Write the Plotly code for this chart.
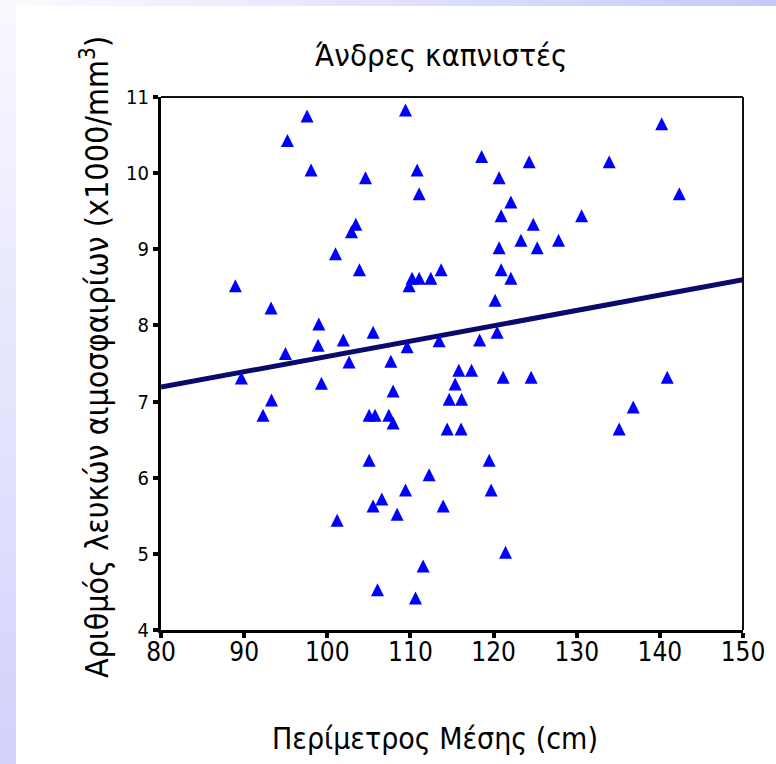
import plotly.graph_objects as go

# ---- data ----
waist_cm = [88.95, 89.67, 92.27, 93.24, 93.29, 94.97, 95.21, 97.57, 98.05, 98.98,
            98.89, 99.30, 101.18, 100.99, 101.93, 102.62, 102.91, 103.43, 103.87, 104.60,
            105.03, 105.03, 105.51, 105.51, 106.04, 105.75, 106.56, 107.40, 107.64, 107.92,
            107.92, 108.40, 109.41, 109.41, 109.60, 109.84, 110.20, 110.61, 110.81, 111.05,
            111.05, 111.53, 112.25, 112.45, 113.69, 113.45, 113.94, 114.42, 114.66, 115.38,
            115.82, 116.15, 116.10, 117.35, 118.32, 118.56, 119.47, 119.71, 120.19, 120.43,
            120.67, 120.67, 120.91, 120.91, 121.15, 121.44, 122.08, 122.08, 123.29, 124.28,
            124.52, 124.77, 125.25, 127.82, 130.59, 133.91, 135.11, 136.80, 140.22, 140.89,
            142.34]
wbc = [8.52, 7.31, 6.82, 8.23, 7.02, 7.63, 10.43, 10.75, 10.04, 8.02,
       7.74, 7.24, 5.44, 8.94, 7.81, 7.52, 9.23, 9.33, 8.73, 9.94,
       6.23, 6.82, 7.91, 5.63, 4.53, 6.82, 5.72, 6.82, 7.53, 7.14,
       6.72, 5.52, 5.84, 10.83, 7.72, 8.52, 8.62, 4.42, 10.04, 9.73,
       8.62, 4.84, 6.04, 8.62, 8.73, 7.80, 5.63, 6.64, 7.03, 7.23,
       7.41, 7.03, 6.64, 7.41, 7.81, 10.22, 6.23, 5.84, 8.33, 7.91,
       9.94, 9.02, 9.44, 8.73, 7.32, 5.02, 9.62, 8.62, 9.12, 10.15,
       7.32, 9.33, 9.02, 9.12, 9.44, 10.15, 6.64, 6.93, 10.65, 7.32,
       9.73]
fit_x = [80, 150]
fit_y = [7.19, 8.60]
x_ticks = [80, 90, 100, 110, 120, 130, 140, 150]
y_ticks = [4, 5, 6, 7, 8, 9, 10, 11]

title_text = "Άνδρες καπνιστές"
x_title = "Περίμετρος Μέσης (cm)"
y_title = "Αριθμός λευκών αιμοσφαιρίων (x1000/mm<sup>3</sup>)"

# ---- layout geometry (px) ----
W, H = 776, 764
L, R, T, B = 161, 33, 97, 134
PW, PH = W - L - R, H - T - B

def px_x(p):
    return (p - L) / PW

def px_y(p):
    return (H - B - p) / PH

narrow = "Liberation Sans Narrow, DejaVu Sans Condensed, Liberation Sans, Arial"

fig = go.Figure()
fig.add_trace(go.Scatter(
    x=fit_x, y=fit_y, mode="lines",
    line=dict(color="#0a0a6e", width=5),
    hoverinfo="skip", showlegend=False))
fig.add_trace(go.Scatter(
    x=waist_cm, y=wbc, mode="markers",
    marker=dict(symbol="arrow-down", angle=180, standoff=6.5, size=13,
                color="#0000ff", line=dict(width=0)),
    showlegend=False))

shapes = []
# decorative background strips (lavender gradients)
n = 40
def mix(c1, c2, t):
    return "rgb(%d,%d,%d)" % tuple(round(a + (b - a) * t) for a, b in zip(c1, c2))
for i in range(n):
    y0 = i * H / n
    y1 = (i + 1) * H / n + 0.5
    shapes.append(dict(type="rect", xref="paper", yref="paper", layer="below",
                       x0=px_x(0), x1=px_x(16), y0=px_y(y1), y1=px_y(y0),
                       fillcolor=mix((248, 248, 255), (210, 210, 252), i / (n - 1)),
                       line=dict(width=0)))
for i in range(n):
    x0 = 16 + i * (W - 16) / n
    x1 = 16 + (i + 1) * (W - 16) / n + 0.5
    shapes.append(dict(type="rect", xref="paper", yref="paper", layer="below",
                       x0=px_x(x0), x1=px_x(x1), y0=px_y(6), y1=px_y(0),
                       fillcolor=mix((250, 250, 255), (200, 200, 252), i / (n - 1)),
                       line=dict(width=0)))
# thin top and right frame lines
shapes.append(dict(type="line", xref="paper", yref="paper", x0=0, x1=1, y0=1, y1=1,
                   line=dict(color="#111111", width=2)))
shapes.append(dict(type="line", xref="paper", yref="paper", x0=1, x1=1, y0=0, y1=1,
                   line=dict(color="#111111", width=2)))

annotations = [
    dict(text=title_text, xref="paper", yref="paper", x=px_x(441), y=px_y(55),
         showarrow=False, xanchor="center", yanchor="middle",
         font=dict(family=narrow, size=31, color="black")),
    dict(text=x_title, xref="paper", yref="paper", x=px_x(435), y=px_y(738),
         showarrow=False, xanchor="center", yanchor="middle",
         font=dict(family=narrow, size=30, color="black")),
    dict(text=y_title, xref="paper", yref="paper", x=px_x(95), y=px_y(357),
         showarrow=False, xanchor="center", yanchor="middle", textangle=-90,
         font=dict(family=narrow, size=32, color="black")),
]

fig.update_layout(
    width=W, height=H,
    margin=dict(l=L, r=R, t=T, b=B, pad=0),
    paper_bgcolor="white", plot_bgcolor="white",
    shapes=shapes, annotations=annotations,
    xaxis=dict(range=[80, 150], tickvals=x_ticks, ticktext=[str(v) for v in x_ticks],
               showgrid=False, zeroline=False, showline=True, linecolor="black",
               linewidth=3, ticks="outside", ticklen=5, tickwidth=4, tickcolor="black",
               ticklabelstandoff=-8,
               tickfont=dict(family=narrow, size=26, color="black")),
    yaxis=dict(range=[4, 11], tickvals=y_ticks, ticktext=[str(v) for v in y_ticks],
               showgrid=False, zeroline=False, showline=True, linecolor="black",
               linewidth=3, ticks="outside", ticklen=5, tickwidth=4, tickcolor="black",
               tickfont=dict(family=narrow, size=20, color="black")),
)

fig.write_html("out.html")
